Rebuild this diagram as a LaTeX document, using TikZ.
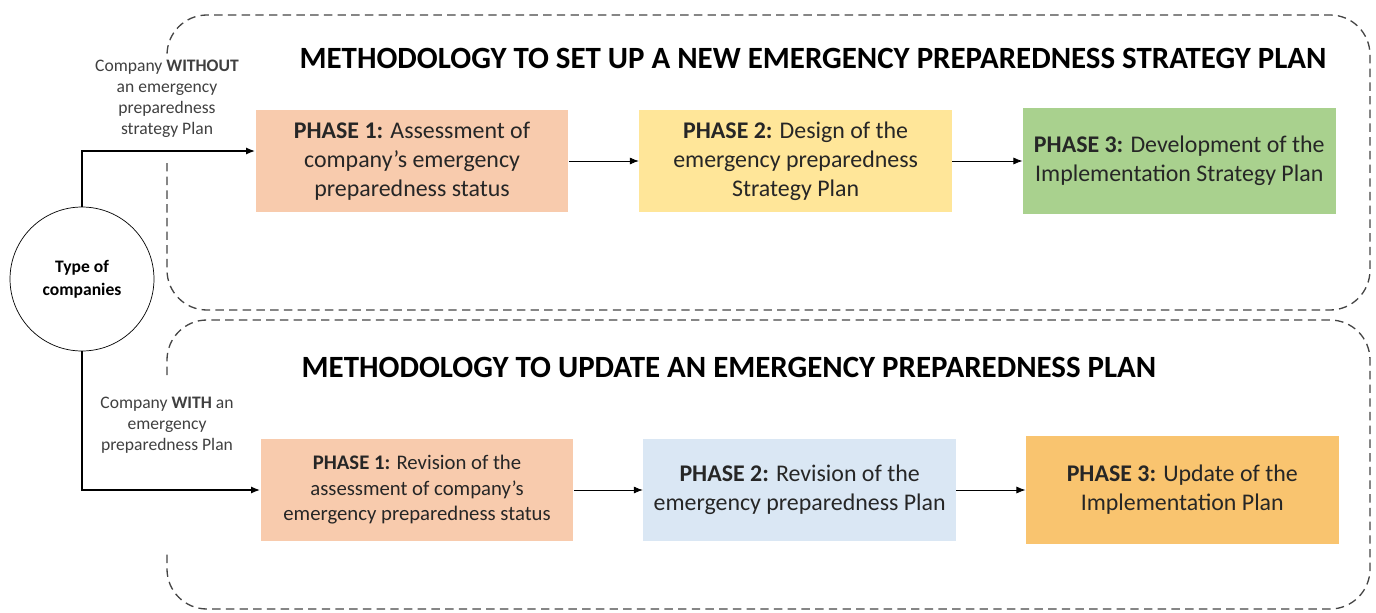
\documentclass[tikz,border=0pt]{standalone}
\usepackage{fontspec}
\setmainfont{Carlito}
\usetikzlibrary{positioning,arrows.meta}

\definecolor{phaseorange}{HTML}{F8CBAD}
\definecolor{phaseyellow}{HTML}{FFE699}
\definecolor{phasegreen}{HTML}{A9D18E}
\definecolor{phaseblue}{HTML}{DAE7F4}
\definecolor{phasegold}{HTML}{F9C46F}
\definecolor{dashgray}{HTML}{454545}

\begin{document}
\begin{tikzpicture}[x=0.02cm, y=-0.02cm, node distance=1.4cm,
    >={Latex[length=1.8mm,width=1.4mm]},
    phase/.style={rectangle, minimum width=6.26cm, minimum height=2.04cm, inner xsep=2pt, align=center,
        font=\fontsize{13.6}{16.5}\selectfont, text=black!85},
    headline/.style={font=\fontsize{17.6}{20}\selectfont\bfseries},
    branch/.style={align=center, font=\fontsize{10}{12}\selectfont, text=black!75},
    methodbox/.style={draw=dashgray, line width=0.75pt, dash pattern=on 4.8pt off 3pt, rounded corners=0.8cm}]
    \useasboundingbox (0,0) rectangle (1376,612);

    % dashed frames, left side open behind the branch labels
    \draw[methodbox] (167,163) -- (167,310) -- (1370,310) -- (1370,15) -- (167,15) -- (167,58);
    \draw[methodbox] (167,375) -- (167,320) -- (1370,320) -- (1370,609) -- (167,609) -- (167,553);

    \node (newtitle) [headline] at (813,58) {METHODOLOGY TO SET UP A NEW EMERGENCY PREPAREDNESS STRATEGY PLAN};
    \node (updtitle) [headline] at (729,367) {METHODOLOGY TO UPDATE AN EMERGENCY PREPAREDNESS PLAN};

    \node (types) [circle, draw, minimum size=2.88cm, align=center, font=\fontsize{10}{13}\selectfont\bfseries] at (82,279) {Type of\\companies};

    % new plan
    \node (new1) [phase, fill=phaseorange] at (412,161) {\textbf{PHASE 1:} Assessment of\\company's emergency\\preparedness status};
    \node (new2) [phase, fill=phaseyellow, right=of new1] {\textbf{PHASE 2:} Design of the\\emergency preparedness\\Strategy Plan};
    \node (new3) [phase, fill=phasegreen, right=of new2, minimum height=2.14cm] {\textbf{PHASE 3:} Development of the\\Implementation Strategy Plan};

    % update
    \node (upd1) [phase, fill=phaseorange, font=\fontsize{11.8}{14.5}\selectfont] at (417,490) {\textbf{PHASE 1:} Revision of the\\assessment of company’s\\emergency preparedness status};
    \node (upd2) [phase, fill=phaseblue, right=1.38cm of upd1] {\textbf{PHASE 2:} Revision of the\\emergency preparedness Plan};
    \node (upd3) [phase, fill=phasegold, right=1.38cm of upd2, minimum height=2.16cm] {\textbf{PHASE 3:} Update of the\\Implementation Plan};

    \node (without) [branch] at (167,99) {Company \textbf{WITHOUT}\\an emergency\\preparedness\\strategy Plan};
    \node (with) [branch] at (167,425) {Company \textbf{WITH} an\\emergency\\preparedness Plan};

    \draw[->, line width=0.9pt] (types.north) |- ([yshift=0.2cm]new1.west);
    \draw[->, line width=0.9pt] (types.south) |- (upd1.west);
    \draw[->] (new1) -- (new2);
    \draw[->] (new2) -- (new3);
    \draw[->] (upd1) -- (upd2);
    \draw[->] (upd2) -- (upd3);
\end{tikzpicture}
\end{document}
